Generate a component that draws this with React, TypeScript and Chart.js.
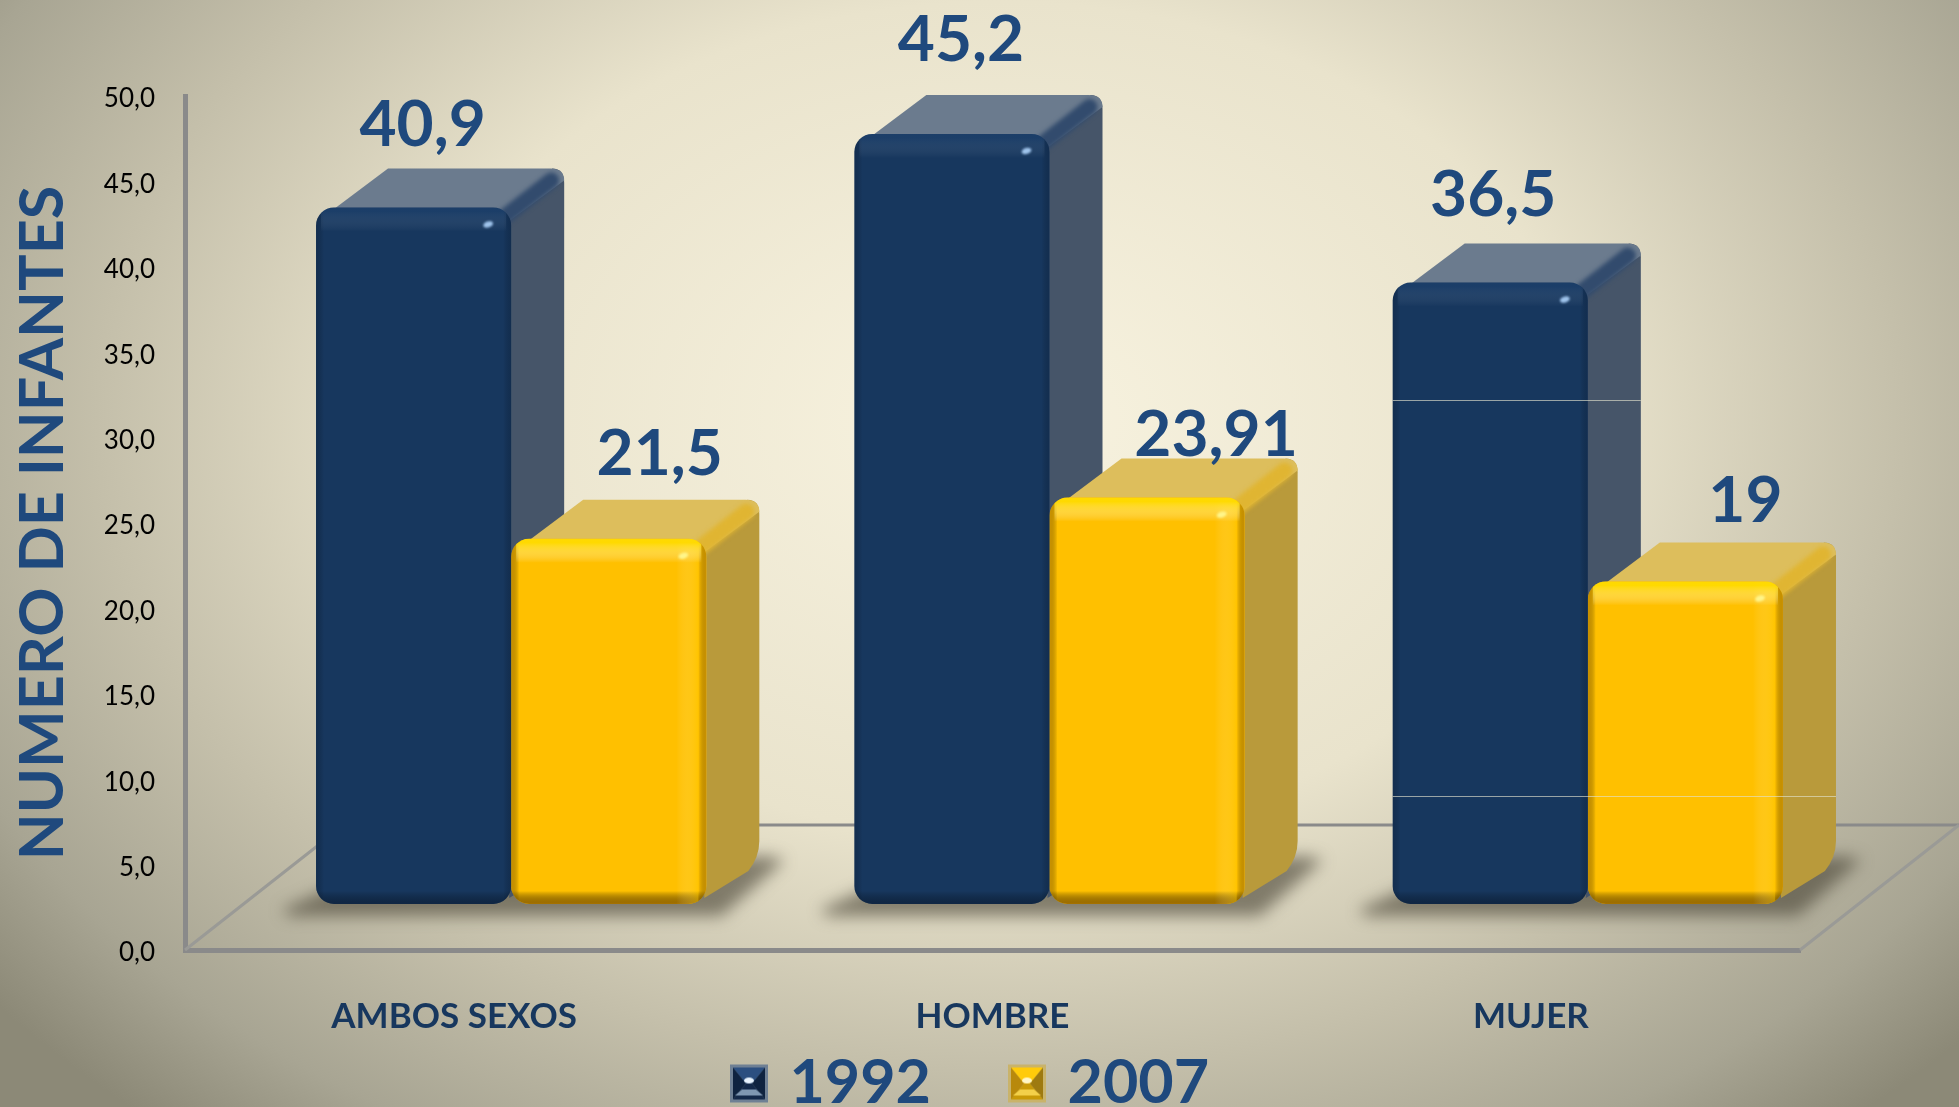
import React, { useEffect, useRef } from "react";
import { Chart, registerables } from "chart.js";

Chart.register(...registerables);

const categories = ["AMBOS SEXOS", "HOMBRE", "MUJER"];
const series1992 = [40.9, 45.2, 36.5];
const series2007 = [21.5, 23.91, 19];
const seriesNames = ["1992", "2007"];
const yTickValues = [0, 5, 10, 15, 20, 25, 30, 35, 40, 45, 50];

const W = 1959;
const H = 1107;
const AREA_LEFT = 185;
const AREA_RIGHT = 1800;
const AREA_TOP = 96;
const AREA_BOTTOM = 950;
const BAR_DX = 57;
const BAR_DY = -44;
const DEPTH_X = 53;
const DEPTH_Y = -39;
const FLOOR_DX = 159;
const FLOOR_DY = -125;

// label offsets from the top centre of the front face of each bar [dataset][category]
const labelShift = [
  [[9, -82], [9, -94], [3, -87]],
  [[51, -84], [69, -62], [60, -80]],
];

const palette = [
  {
    top: "#6B7B8E", side: "#465569", band: "#324B6D",
    front: "#17375E", shine: "rgba(45,90,145,0.2)", edge: "rgba(8,22,42,0.28)",
    bottom: "rgba(8,20,38,0.5)", glow: "rgba(30,65,110,0.0)", spot: "#9FC4EC",
  },
  {
    top: "#DDBE5C", side: "#B99A3B", band: "#E0B532",
    front: "#FFC000", shine: "rgba(255,220,0,0.9)", edge: "rgba(170,115,0,0.6)",
    bottom: "rgba(150,100,0,0.9)", glow: "rgba(255,205,0,0.35)", spot: "#FFF58A",
  },
];

function numFmt(v: number, fixed: boolean) {
  return (fixed ? v.toFixed(1) : String(v)).replace(".", ",");
}

function makeIcon(faces: string[], center: string, lower: string) {
  const c = document.createElement("canvas");
  c.width = 40;
  c.height = 40;
  const g = c.getContext("2d")!;
  const s = 40;
  const a = 4;
  const mid = 20;
  const poly = (pts: number[][], col: string) => {
    g.fillStyle = col;
    g.beginPath();
    pts.forEach((p, i) => (i ? g.lineTo(p[0], p[1]) : g.moveTo(p[0], p[1])));
    g.closePath();
    g.fill();
  };
  g.filter = "blur(0.6px)";
  g.fillStyle = faces[4];
  g.fillRect(1, 1, s - 2, s - 2);
  poly([[a, a], [s - a, a], [mid + 3, mid], [mid - 3, mid]], faces[0]);
  poly([[a, s - a], [s - a, s - a], [mid + 3, mid], [mid - 3, mid]], faces[1]);
  poly([[a, a], [mid - 3, mid], [a, s - a]], faces[2]);
  poly([[s - a, a], [mid + 3, mid], [s - a, s - a]], faces[3]);
  poly([[mid - 7, 26], [mid + 7, 26], [mid + 14, 32], [mid - 14, 32]], lower);
  g.fillStyle = center;
  g.beginPath();
  g.ellipse(mid, 17, 5, 3, 0, 0, Math.PI * 2);
  g.fill();
  return c;
}

const scene = {
  id: "scene",
  beforeDraw(chart: any) {
    const { ctx } = chart;
    ctx.save();
    ctx.translate(1000, 420);
    ctx.scale(1290, 930);
    const g = ctx.createRadialGradient(0, 0, 0, 0, 0, 1);
    g.addColorStop(0, "#F8F3E0");
    g.addColorStop(0.45, "#E9E3CC");
    g.addColorStop(0.7, "#C4BFAA");
    g.addColorStop(0.88, "#A8A593");
    g.addColorStop(1, "#8C8977");
    ctx.fillStyle = g;
    ctx.fillRect(-1, -1, 2, 2);
    ctx.restore();
    // nudge the y tick labels down to the reference position
    chart.scales.y.getLabelItems().forEach((it: any) => {
      if (!it.options.nudged) {
        it.options.translation[1] += 3;
        it.options.nudged = true;
      }
    });
  },
  beforeDatasetsDraw(chart: any) {
    const { ctx, chartArea: a } = chart;
    const m0 = chart.getDatasetMeta(0).data;
    const m1 = chart.getDatasetMeta(1).data;

    // floor lines
    ctx.save();
    ctx.strokeStyle = "#8A8A8A";
    ctx.lineWidth = 3;
    ctx.beginPath();
    ctx.moveTo(a.left + FLOOR_DX, a.bottom + FLOOR_DY);
    ctx.lineTo(a.right + FLOOR_DX, a.bottom + FLOOR_DY);
    ctx.stroke();
    ctx.strokeStyle = "#9A9A96";
    ctx.beginPath();
    ctx.moveTo(a.left, a.bottom);
    ctx.lineTo(a.left + FLOOR_DX, a.bottom + FLOOR_DY);
    ctx.moveTo(a.right, a.bottom);
    ctx.lineTo(a.right + FLOOR_DX, a.bottom + FLOOR_DY);
    ctx.stroke();
    ctx.restore();

    // soft shadow on the floor
    categories.forEach((_, i) => {
      const L = m0[i].x - m0[i].width / 2 + BAR_DX;
      const R = m1[i].x + m1[i].width / 2 + BAR_DX;
      const B = m0[i].base + BAR_DY;
      ctx.save();
      ctx.filter = "blur(8px)";
      ctx.fillStyle = "rgba(72,68,54,0.62)";
      ctx.beginPath();
      ctx.moveTo(L - 34, B + 6);
      ctx.lineTo(L + 10, B - 14);
      ctx.lineTo(R + 60, B - 48);
      ctx.lineTo(R + 78, B - 44);
      ctx.lineTo(R + 15, B + 12);
      ctx.lineTo(L - 26, B + 12);
      ctx.closePath();
      ctx.fill();
      ctx.restore();
    });

    // receding faces
    [m0, m1].forEach((meta: any[], ds: number) => {
      const c = palette[ds];
      meta.forEach((el: any) => {
        const L = el.x - el.width / 2 + BAR_DX;
        const R = el.x + el.width / 2 + BAR_DX;
        const T = el.y + BAR_DY;
        const B = el.base + BAR_DY;
        ctx.save();
        // side
        ctx.fillStyle = c.side;
        ctx.beginPath();
        ctx.moveTo(R - 2, T + 10);
        ctx.lineTo(R + DEPTH_X - 12, T + DEPTH_Y);
        ctx.quadraticCurveTo(R + DEPTH_X, T + DEPTH_Y, R + DEPTH_X, T + DEPTH_Y + 14);
        ctx.lineTo(R + DEPTH_X, B + DEPTH_Y - 24);
        ctx.quadraticCurveTo(R + DEPTH_X, B + DEPTH_Y - 8, R + DEPTH_X - 11, B + DEPTH_Y + 6);
        ctx.lineTo(R - 2, B - 6);
        ctx.closePath();
        ctx.fill();
        // top
        ctx.fillStyle = c.top;
        ctx.beginPath();
        ctx.moveTo(L + 16, T + 3);
        ctx.lineTo(L + 72, T + DEPTH_Y);
        ctx.lineTo(R + DEPTH_X - 14, T + DEPTH_Y);
        ctx.quadraticCurveTo(R + DEPTH_X, T + DEPTH_Y, R + DEPTH_X, T + DEPTH_Y + 12);
        ctx.lineTo(R, T + 12);
        ctx.closePath();
        ctx.fill();
        // rounded edge between top and side
        ctx.filter = "blur(2px)";
        ctx.strokeStyle = c.band;
        ctx.lineWidth = 16;
        ctx.lineCap = "round";
        ctx.beginPath();
        ctx.moveTo(R - 6, T + 9);
        ctx.lineTo(R + DEPTH_X - 13, T + DEPTH_Y + 12);
        ctx.stroke();
        ctx.restore();
      });
    });

    ctx.save();
    ctx.translate(BAR_DX, BAR_DY);
  },
  afterDatasetsDraw(chart: any) {
    const { ctx, scales } = chart;
    ctx.restore();
    const metas = [chart.getDatasetMeta(0).data, chart.getDatasetMeta(1).data];

    metas.forEach((meta: any[], ds: number) => {
      const c = palette[ds];
      meta.forEach((el: any) => {
        const L = el.x - el.width / 2 + BAR_DX;
        const R = el.x + el.width / 2 + BAR_DX;
        const T = el.y + BAR_DY;
        const B = el.base + BAR_DY;
        ctx.save();
        ctx.beginPath();
        ctx.roundRect(L, T, R - L, B - T, 18);
        ctx.clip();
        let g = ctx.createLinearGradient(0, B - 20, 0, B);
        g.addColorStop(0, "rgba(0,0,0,0)");
        g.addColorStop(0.35, "rgba(0,0,0,0)");
        g.addColorStop(1, c.bottom);
        ctx.fillStyle = g;
        ctx.fillRect(L, B - 20, R - L, 20);
        g = ctx.createLinearGradient(L, 0, L + 8, 0);
        g.addColorStop(0, c.edge);
        g.addColorStop(1, "rgba(0,0,0,0)");
        ctx.fillStyle = g;
        ctx.fillRect(L, T, 8, B - T);
        g = ctx.createLinearGradient(R - 8, 0, R, 0);
        g.addColorStop(0, "rgba(0,0,0,0)");
        g.addColorStop(1, c.edge);
        ctx.fillStyle = g;
        ctx.fillRect(R - 8, T, 8, B - T);
        g = ctx.createLinearGradient(R - 30, 0, R - 8, 0);
        g.addColorStop(0, "rgba(255,255,255,0)");
        g.addColorStop(1, c.glow);
        ctx.fillStyle = g;
        ctx.fillRect(R - 30, T, 22, B - T);
        g = ctx.createLinearGradient(0, T + 4, 0, T + 24);
        g.addColorStop(0, c.shine);
        g.addColorStop(1, "rgba(255,255,255,0)");
        ctx.fillStyle = g;
        ctx.fillRect(L + 5, T, R - L - 10, 24);
        ctx.filter = "blur(1px)";
        ctx.fillStyle = c.spot;
        ctx.beginPath();
        ctx.ellipse(R - 23, T + 17, 5, 3, -0.3, 0, Math.PI * 2);
        ctx.fill();
        ctx.restore();
      });
    });

    // thin pale streaks across the third group
    const y = scales.y;
    const L = metas[0][2].x - metas[0][2].width / 2 + BAR_DX;
    const R0 = metas[0][2].x + metas[0][2].width / 2 + BAR_DX;
    const R1 = metas[1][2].x + metas[1][2].width / 2 + BAR_DX;
    ctx.save();
    ctx.lineWidth = 1;
    ctx.strokeStyle = "rgba(225,225,205,0.65)";
    ctx.beginPath();
    ctx.moveTo(L, Math.round(y.getPixelForValue(32.2)) + 0.5);
    ctx.lineTo(R0 + DEPTH_X, Math.round(y.getPixelForValue(32.2)) + 0.5);
    ctx.moveTo(L, Math.round(y.getPixelForValue(9)) + 0.5);
    ctx.lineTo(R1 + DEPTH_X, Math.round(y.getPixelForValue(9)) + 0.5);
    ctx.stroke();
    ctx.restore();

    // value labels
    ctx.save();
    ctx.font = "bold 64px Lato";
    ctx.fillStyle = "#1F497D";
    ctx.textAlign = "center";
    ctx.textBaseline = "middle";
    metas.forEach((meta: any[], ds: number) => {
      meta.forEach((el: any, i: number) => {
        const v = chart.data.datasets[ds].data[i];
        const [sx, sy] = labelShift[ds][i];
        ctx.fillText(numFmt(v, false), el.x + BAR_DX + sx, el.y + BAR_DY + sy);
      });
    });
    ctx.restore();
  },
  afterLayout(chart: any) {
    const lg = chart.legend;
    const x = chart.scales.x;
    x.bottom = H - 30;
    x.height = x.bottom - x.top;
    if (lg) {
      lg.left += 74;
      lg.right += 74;
      lg.top += 17;
      lg.bottom += 17;
    }
  },
};

export default function App() {
  const ref = useRef<HTMLCanvasElement>(null);
  useEffect(() => {
    const icons = [
      makeIcon(["#2C4F80", "#14294A", "#0F2340", "#0F2340", "#6F8094"], "#E8F2FC", "#7F97B2"),
      makeIcon(["#FFCB0A", "#C99A08", "#B8890C", "#9E7A10", "#C9B36A"], "#FFF6C8", "#F3D04A"),
    ];
    const chart = new Chart(ref.current!, {
      type: "bar",
      data: {
        labels: categories,
        datasets: [
          { label: seriesNames[0], data: series1992, backgroundColor: palette[0].front },
          { label: seriesNames[1], data: series2007, backgroundColor: palette[1].front },
        ],
      },
      plugins: [scene],
      options: {
        responsive: false,
        animation: false,
        devicePixelRatio: 1,
        layout: { padding: { left: 0, right: W - AREA_RIGHT, top: AREA_TOP, bottom: 0 } },
        datasets: {
          bar: {
            categoryPercentage: 0.725,
            barPercentage: 1,
            borderRadius: 18,
            borderSkipped: false,
            borderWidth: 0,
            base: 0.12,
          },
        },
        scales: {
          x: {
            grid: { display: false },
            border: { display: true, color: "#8A8A8A", width: 5 },
            ticks: {
              padding: 38,
              color: "#17375E",
              font: { family: "Lato", weight: "bold", size: 35 },
              maxRotation: 0,
            },
            afterFit(s: any) {
              s.height = H - AREA_BOTTOM - (s.chart.legend?.height ?? 60);
            },
          },
          y: {
            min: 0,
            max: 50,
            grid: { display: false },
            border: { display: true, color: "#8A8A8A", width: 5 },
            afterBuildTicks(s: any) {
              s.ticks = yTickValues.map((value) => ({ value }));
            },
            ticks: {
              padding: 22,
              color: "#000000",
              font: { family: "Lato", size: 26 },
              callback: (v: any) => numFmt(Number(v), true),
            },
            title: {
              display: true,
              text: "NUMERO DE INFANTES",
              color: "#1F497D",
              font: { family: "Lato", weight: "bold", size: 61 },
              padding: { top: 7, bottom: 0 },
            },
            afterFit(s: any) {
              s.width = AREA_LEFT;
            },
          },
        },
        plugins: {
          tooltip: { enabled: false },
          legend: {
            position: "bottom",
            labels: {
              color: "#1F497D",
              font: { family: "Lato", weight: "bold", size: 61 },
              usePointStyle: true,
              boxWidth: 20,
              boxHeight: 20,
              padding: 86,
              generateLabels(c: any) {
                const items = Chart.defaults.plugins.legend.labels.generateLabels(c);
                return items.map((it: any, i: number) => ({ ...it, pointStyle: icons[i] }));
              },
            },
          },
        },
      } as any,
    });
    return () => chart.destroy();
  }, []);
  return (
    <div style={{ position: "absolute", left: 0, top: 0, width: W, height: H, overflow: "hidden" }}>
      <canvas ref={ref} width={W} height={H} style={{ display: "block" }} />
    </div>
  );
}
